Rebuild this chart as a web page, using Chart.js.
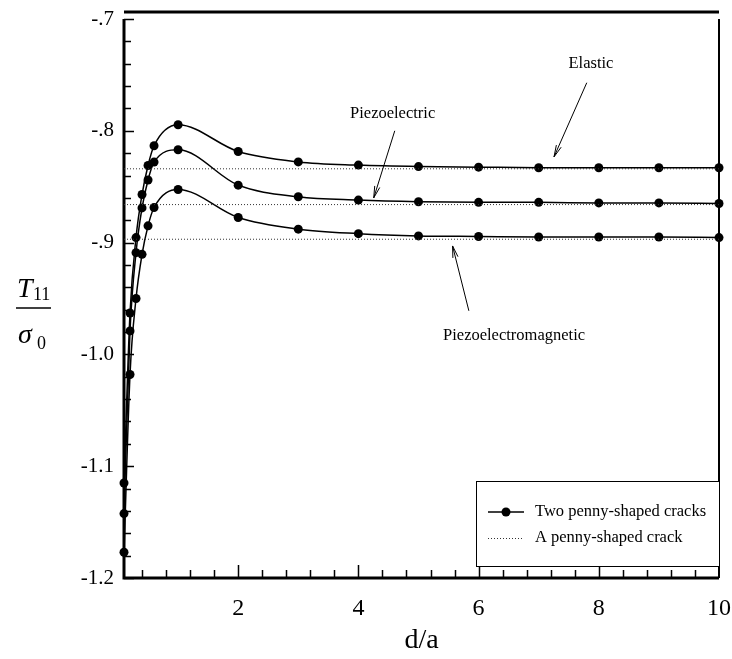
<!DOCTYPE html>
<html>
<head>
<meta charset="utf-8">
<script src="https://cdn.jsdelivr.net/npm/chart.js@4.4.1/dist/chart.umd.min.js"></script>
<style>
  html, body { margin: 0; padding: 0; background: #fff; }
  #wrap { width: 732px; height: 659px; }
</style>
</head>
<body>
<div id="wrap"><canvas id="stressChart" width="732" height="659"></canvas></div>
<script>
// d/a sample positions and T11/sigma0 for two penny-shaped cracks
const distances = [0.1, 0.2, 0.3, 0.4, 0.5, 0.6, 1, 2, 3, 4, 5, 6, 7, 8, 9, 10];
const elastic = [-1.115, -0.963, -0.8955, -0.857, -0.831, -0.8134, -0.7946, -0.8185, -0.8278, -0.8307, -0.832, -0.8325, -0.833, -0.833, -0.833, -0.833];
const piezoelectric = [-1.1424, -0.979, -0.909, -0.869, -0.844, -0.828, -0.817, -0.8486, -0.859, -0.862, -0.8635, -0.864, -0.864, -0.8645, -0.8645, -0.865];
const piezoelectromagnetic = [-1.177, -1.018, -0.950, -0.9105, -0.885, -0.8686, -0.8525, -0.8776, -0.888, -0.892, -0.894, -0.8945, -0.895, -0.895, -0.895, -0.8955];

// single crack reference levels (elastic, piezoelectric, piezoelectromagnetic)
const singleCrack = [-0.834, -0.866, -0.897];

const xRange = [0.1, 10];
const yRange = [-1.2, -0.7];
const xTicks = [2, 4, 6, 8, 10];
const xTickLabels = ['2', '4', '6', '8', '10'];
const yTicks = [-1.2, -1.1, -1.0, -0.9, -0.8, -0.7];
const yTickLabels = ['-1.2', '-1.1', '-1.0', '-.9', '-.8', '-.7'];

// callouts: [text, text pos, arrow tail, arrow tip] in data units
const callouts = [
  ['Elastic', [7.87, -0.740], [7.80, -0.757], [7.255, -0.8233]],
  ['Piezoelectric', [4.57, -0.785], [4.605, -0.800], [4.255, -0.860]],
  ['Piezoelectromagnetic', [6.59, -0.9835], [5.838, -0.961], [5.567, -0.903]]
];

const SERIF = '"Liberation Serif", "Times New Roman", serif';

const toPoints = ys => distances.map((d, i) => ({ x: d, y: ys[i] }));

const curveStyle = {
  borderColor: '#000',
  borderWidth: 1.5,
  pointRadius: 4.5,
  pointBackgroundColor: '#000',
  pointBorderColor: '#000',
  pointBorderWidth: 0,
  cubicInterpolationMode: 'monotone',
  clip: false,
  fill: false
};

const datasets = [];
singleCrack.forEach(v => {
  datasets.push({
    label: 'A penny-shaped crack',
    data: [{ x: xRange[0], y: v }, { x: xRange[1], y: v }],
    borderColor: '#333',
    borderWidth: 1,
    borderDash: [1, 2],
    pointRadius: 0,
    fill: false
  });
});
[elastic, piezoelectric, piezoelectromagnetic].forEach(ys => {
  datasets.push(Object.assign({ label: 'Two penny-shaped cracks', data: toPoints(ys) }, curveStyle));
});

function arrow(ctx, x0, y0, x1, y1) {
  const ang = Math.atan2(y1 - y0, x1 - x0);
  const head = 12, spread = 0.22;
  ctx.beginPath();
  ctx.moveTo(x0, y0);
  ctx.lineTo(x1, y1);
  ctx.moveTo(x1 - head * Math.cos(ang - spread), y1 - head * Math.sin(ang - spread));
  ctx.lineTo(x1, y1);
  ctx.lineTo(x1 - head * Math.cos(ang + spread), y1 - head * Math.sin(ang + spread));
  ctx.stroke();
}

// axes, inward ticks and the open-topped frame
const paperFrame = {
  id: 'paperFrame',
  beforeDatasetsDraw(chart) {
    const { ctx, chartArea: a, scales: { x, y } } = chart;
    ctx.save();
    ctx.strokeStyle = '#000';

    ctx.lineWidth = 1.5;
    ctx.beginPath();
    for (let v = 0.4; v < 10; v += 0.4) {
      const isMajor = Math.abs(v / 2 - Math.round(v / 2)) < 1e-6;
      const px = Math.round(x.getPixelForValue(v)) + 0.5;
      const len = isMajor ? 13 : 8;
      ctx.moveTo(px, a.bottom);
      ctx.lineTo(px, a.bottom - len);
    }
    for (let k = 0; k <= 25; k++) {
      const v = yRange[0] + k * 0.02;
      const isMajor = k % 5 === 0;
      const py = Math.round(y.getPixelForValue(v)) + 0.5;
      ctx.moveTo(a.left, py);
      ctx.lineTo(a.left + (isMajor ? 10 : 7), py);
    }
    ctx.stroke();

    ctx.lineWidth = 3;
    ctx.beginPath();
    ctx.moveTo(a.left, a.top);
    ctx.lineTo(a.left, a.bottom);
    ctx.lineTo(a.right, a.bottom);
    ctx.stroke();
    ctx.beginPath();
    ctx.moveTo(a.left, a.top - 7);
    ctx.lineTo(a.right, a.top - 7);
    ctx.stroke();
    ctx.lineWidth = 2;
    ctx.beginPath();
    ctx.moveTo(a.right, a.top);
    ctx.lineTo(a.right, a.bottom);
    ctx.stroke();
    ctx.restore();
  },
  afterDraw(chart) {
    const { ctx, chartArea: a, scales: { x, y } } = chart;
    ctx.save();
    ctx.fillStyle = '#000';
    ctx.strokeStyle = '#000';

    // callout labels with arrows
    ctx.font = '16.5px ' + SERIF;
    ctx.textAlign = 'center';
    ctx.textBaseline = 'middle';
    ctx.lineWidth = 1;
    callouts.forEach(([text, pos, tail, tip]) => {
      ctx.fillText(text, x.getPixelForValue(pos[0]), y.getPixelForValue(pos[1]));
      arrow(ctx, x.getPixelForValue(tail[0]), y.getPixelForValue(tail[1]),
        x.getPixelForValue(tip[0]), y.getPixelForValue(tip[1]));
    });

    // legend box in the lower right corner
    const bw = 243, bh = 85;
    const bx = a.right - bw, by = a.bottom - 12 - bh;
    ctx.fillStyle = '#fff';
    ctx.fillRect(bx, by, bw, bh);
    ctx.lineWidth = 1;
    ctx.strokeRect(bx + 0.5, by + 0.5, bw, bh);
    ctx.fillStyle = '#000';
    const r1 = by + 31, r2 = by + 57;
    ctx.lineWidth = 1.5;
    ctx.beginPath();
    ctx.moveTo(bx + 12, r1);
    ctx.lineTo(bx + 48, r1);
    ctx.stroke();
    ctx.beginPath();
    ctx.arc(bx + 30, r1, 4.5, 0, Math.PI * 2);
    ctx.fill();
    ctx.lineWidth = 1;
    ctx.strokeStyle = '#333';
    ctx.setLineDash([1, 2]);
    ctx.beginPath();
    ctx.moveTo(bx + 12, r2 + 0.5);
    ctx.lineTo(bx + 48, r2 + 0.5);
    ctx.stroke();
    ctx.setLineDash([]);
    ctx.textAlign = 'left';
    ctx.font = '16.5px ' + SERIF;
    ctx.fillText('Two penny-shaped cracks', bx + 59, r1);
    ctx.fillText('A penny-shaped crack', bx + 59, r2);

    // axis titles
    ctx.textAlign = 'center';
    ctx.font = '28px ' + SERIF;
    ctx.fillText('d/a', (a.left + a.right) / 2, 641);

    const cx = 33, bar = 308;
    ctx.textAlign = 'left';
    ctx.textBaseline = 'alphabetic';
    ctx.font = 'italic 28px ' + SERIF;
    ctx.fillText('T', 17, bar - 11);
    ctx.fillText('\u03C3', 18, bar + 35);
    ctx.font = '18px ' + SERIF;
    ctx.fillText('11', 33, bar - 8);
    ctx.fillText('0', 37, bar + 41);
    ctx.lineWidth = 1.5;
    ctx.strokeStyle = '#000';
    ctx.beginPath();
    ctx.moveTo(cx - 17, bar);
    ctx.lineTo(cx + 18, bar);
    ctx.stroke();
    ctx.restore();
  }
};

new Chart(document.getElementById('stressChart'), {
  type: 'line',
  data: { datasets },
  options: {
    responsive: false,
    animation: false,
    layout: { padding: { top: 19, right: 13, left: 0, bottom: 0 } },
    plugins: {
      legend: { display: false },
      tooltip: { enabled: false }
    },
    scales: {
      x: {
        type: 'linear',
        min: xRange[0],
        max: xRange[1],
        grid: { display: false, drawTicks: false },
        border: { display: false },
        afterBuildTicks: s => { s.ticks = xTicks.map(v => ({ value: v })); },
        afterFit: s => { s.height = 81; s.paddingLeft = 0; s.paddingRight = 0; },
        ticks: {
          padding: 16,
          color: '#000',
          font: { family: SERIF, size: 24 },
          maxRotation: 0,
          callback: v => xTickLabels[xTicks.indexOf(v)]
        }
      },
      y: {
        type: 'linear',
        min: yRange[0],
        max: yRange[1],
        grid: { display: false, drawTicks: false },
        border: { display: false },
        afterBuildTicks: s => { s.ticks = yTicks.map(v => ({ value: v })); },
        afterFit: s => { s.width = 124; s.paddingTop = 0; s.paddingBottom = 0; },
        ticks: {
          padding: 10,
          color: '#000',
          font: { family: SERIF, size: 21 },
          callback: v => {
            const i = yTicks.findIndex(t => Math.abs(t - v) < 1e-9);
            return i >= 0 ? yTickLabels[i] : '';
          }
        }
      }
    }
  },
  plugins: [paperFrame]
});
</script>
</body>
</html>
